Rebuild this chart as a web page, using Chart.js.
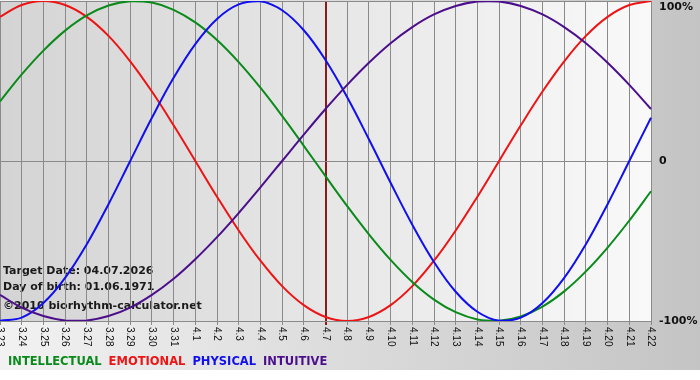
<!DOCTYPE html>
<html>
<head>
<meta charset="utf-8">
<script src="https://cdn.jsdelivr.net/npm/chart.js@4.4.1/dist/chart.umd.min.js"></script>
<style>
  html, body { margin: 0; padding: 0; background: #fff; }
  #wrap { width: 700px; height: 380px; position: relative; }
</style>
</head>
<body>
<div id="wrap"><canvas id="bioChart"></canvas></div>
<script>
// Days shown on the x axis (month.day)
const dayLabels = ['3.23', '3.24', '3.25', '3.26', '3.27', '3.28', '3.29', '3.30', '3.31',
  '4.1', '4.2', '4.3', '4.4', '4.5', '4.6', '4.7', '4.8', '4.9', '4.10', '4.11', '4.12',
  '4.13', '4.14', '4.15', '4.16', '4.17', '4.18', '4.19', '4.20', '4.21', '4.22'];
const targetLabel = '4.7';

// Cycle values in percent, one per day
const intellectual = [37.2, 54.1, 69.0, 81.5, 91.0, 97.2, 99.9, 99.0, 94.5, 86.6, 75.6, 61.8, 45.8, 28.2, 9.5, -9.5,
  -28.2, -45.8, -61.8, -75.6, -86.6, -94.5, -99.0, -99.9, -97.2, -91.0, -81.5, -69.0, -54.1, -37.2, -18.9];
const emotional = [90.1, 97.5, 100, 97.5, 90.1, 78.2, 62.3, 43.4, 22.3, 0, -22.3, -43.4, -62.3, -78.2, -90.1, -97.5,
  -100, -97.5, -90.1, -78.2, -62.3, -43.4, -22.3, 0, 22.3, 43.4, 62.3, 78.2, 90.1, 97.5, 100];
const physical = [-99.8, -97.9, -88.8, -73.1, -52.0, -27.0, 0, 27.0, 52.0, 73.1, 88.8, 97.9, 99.8, 94.2, 81.7, 63.1,
  39.8, 13.6, -13.6, -39.8, -63.1, -81.7, -94.2, -99.8, -97.9, -88.8, -73.1, -52.0, -27.0, 0, 27.0];
const intuitive = [-83.7, -91.6, -96.9, -99.7, -99.7, -96.9, -91.6, -83.7, -73.6, -61.4, -47.6, -32.5, -16.5, 0, 16.5, 32.5,
  47.6, 61.4, 73.6, 83.7, 91.6, 96.9, 99.7, 99.7, 96.9, 91.6, 83.7, 73.6, 61.4, 47.6, 32.5];

// Y axis labels
const yTicks = [100, 0, -100];
const yTickText = ['100%', '0', '-100%'];

// Info lines printed inside the plot
const infoLines = ['Target Date: 04.07.2026', 'Day of birth: 01.06.1971', '\u00a92010 biorhythm-calculator.net'];

const COLORS = {
  intellectual: '#0a8a1a',
  emotional: '#ec1414',
  physical: '#1010ee',
  intuitive: '#4b0f8c',
  grid: '#8a8a8a',
  marker: '#8b1a1a'
};

const legendItems = [
  { text: 'INTELLECTUAL', color: COLORS.intellectual },
  { text: 'EMOTIONAL', color: COLORS.emotional },
  { text: 'PHYSICAL', color: COLORS.physical },
  { text: 'INTUITIVE', color: COLORS.intuitive }
];

/**
 * Backgrounds, info text and legend (drawn under the grid and curves)
 */
const backdropPlugin = {
  id: 'backdrop',
  beforeDraw(chart) {
    const ctx = chart.ctx;
    const area = chart.chartArea;
    const w = chart.width;
    const h = chart.height;
    ctx.save();

    ctx.fillStyle = '#ffffff';
    ctx.fillRect(0, 0, w, h);

    // outer panel gradient
    const outer = ctx.createLinearGradient(0, 0, w, 0);
    outer.addColorStop(0, '#f2f2f2');
    outer.addColorStop(1, '#c4c4c4');
    ctx.fillStyle = outer;
    ctx.fillRect(0, 0, w, 370);

    // plot area gradient
    const inner = ctx.createLinearGradient(area.left, 0, area.right, 0);
    inner.addColorStop(0, '#d4d4d4');
    inner.addColorStop(1, '#f9f9f9');
    ctx.fillStyle = inner;
    ctx.fillRect(area.left, area.top, area.right - area.left, area.bottom - area.top);

    // info text
    ctx.font = 'bold 11px "DejaVu Sans"';
    ctx.fillStyle = '#1a1a1a';
    ctx.textBaseline = 'middle';
    ctx.textAlign = 'left';
    ctx.fillText(infoLines[0], 3, 271);
    ctx.fillText(infoLines[1], 3, 287);
    ctx.fillText(infoLines[2], 3, 306);

    // legend
    ctx.font = 'bold 11.5px "DejaVu Sans"';
    let x = 8;
    legendItems.forEach(item => {
      ctx.fillStyle = item.color;
      ctx.fillText(item.text, x, 362);
      x += ctx.measureText(item.text).width + 7;
    });

    ctx.restore();
  },
  afterDraw(chart) {
    const ctx = chart.ctx;
    const xScale = chart.scales.x;
    const yScale = chart.scales.y;
    const area = chart.chartArea;
    ctx.save();

    // rotated day labels (reading top to bottom)
    ctx.font = '10px "Liberation Sans"';
    ctx.fillStyle = '#111111';
    ctx.textAlign = 'left';
    ctx.textBaseline = 'middle';
    dayLabels.forEach((label, i) => {
      const px = xScale.getPixelForTick(i);
      ctx.save();
      ctx.translate(px, area.bottom + 6);
      ctx.rotate(Math.PI / 2);
      ctx.fillText(label, 0, 0);
      ctx.restore();
    });

    // percent labels on the right
    ctx.font = 'bold 11px "DejaVu Sans"';
    ctx.fillStyle = '#111111';
    yTicks.forEach((v, i) => {
      const py = Math.max(yScale.getPixelForValue(v), area.top + 6);
      ctx.fillText(yTickText[i], area.right + 8, py);
    });

    ctx.restore();
  }
};

function makeSeries(label, data, color) {
  return {
    label: label,
    data: data,
    borderColor: color,
    backgroundColor: color,
    borderWidth: 2,
    pointRadius: 0,
    fill: false,
    tension: 0.4
  };
}

const ctx = document.getElementById('bioChart').getContext('2d');
const bioChart = new Chart(ctx, {
  type: 'line',
  data: {
    labels: dayLabels,
    datasets: [
      makeSeries('INTUITIVE', intuitive, COLORS.intuitive),
      makeSeries('PHYSICAL', physical, COLORS.physical),
      makeSeries('INTELLECTUAL', intellectual, COLORS.intellectual),
      makeSeries('EMOTIONAL', emotional, COLORS.emotional)
    ]
  },
  options: {
    responsive: true,
    maintainAspectRatio: false,
    animation: false,
    layout: {
      padding: { left: 0, right: 49, top: 1, bottom: 55 }
    },
    plugins: {
      legend: { display: false },
      tooltip: { enabled: false }
    },
    scales: {
      x: {
        offset: false,
        border: { display: true, color: COLORS.grid },
        grid: {
          color: c => (dayLabels[c.index] === targetLabel ? COLORS.marker : COLORS.grid),
          lineWidth: c => (dayLabels[c.index] === targetLabel ? 2 : 1),
          tickLength: 4,
          drawTicks: true
        },
        ticks: { display: false, autoSkip: false }
      },
      y: {
        min: -100,
        max: 100,
        border: { display: false },
        grid: {
          color: COLORS.grid,
          drawTicks: false
        },
        ticks: { display: false, stepSize: 100 }
      }
    }
  },
  plugins: [backdropPlugin]
});
</script>
</body>
</html>
